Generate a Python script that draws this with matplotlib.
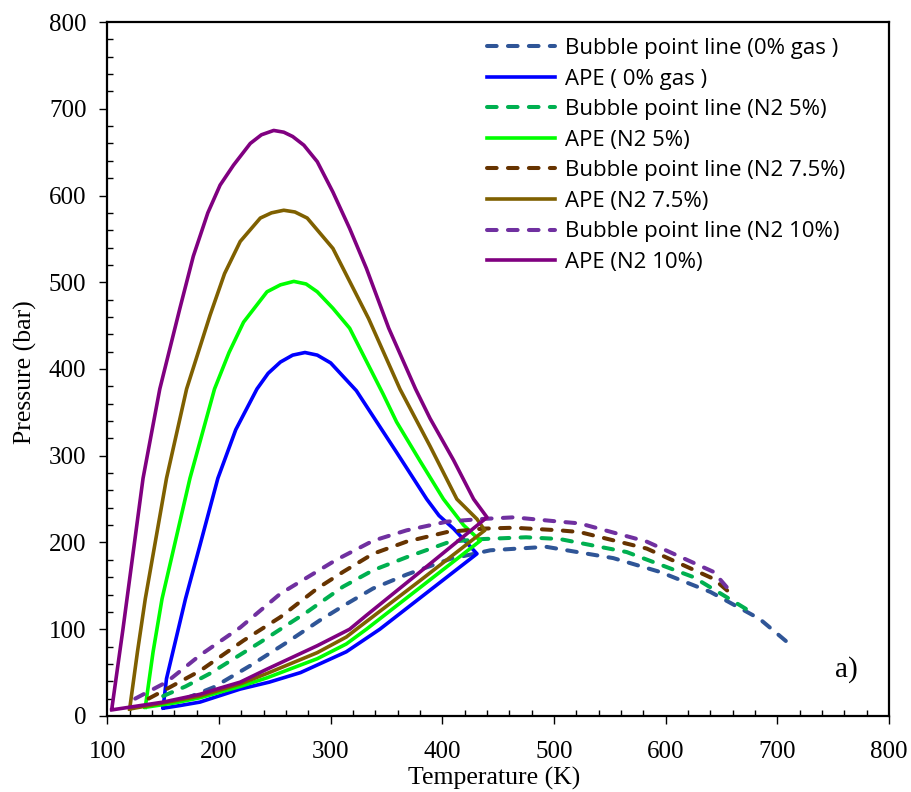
import matplotlib
matplotlib.use('Agg')
import matplotlib.pyplot as plt
from matplotlib.ticker import MultipleLocator

# bubble point lines (dashed), temperature in K, pressure in bar
bp_0_t = [170, 195, 228, 261, 290, 314, 338, 368, 407, 443, 493, 553, 595, 640, 684, 708]
bp_0_p = [20, 33, 58, 85, 110, 129, 147, 163, 181, 191, 195, 182, 166, 143, 112, 86]
bp_5_t = [150, 170, 192, 237, 279, 311, 338, 368, 407, 437, 475, 505, 565, 625, 675]
bp_5_p = [23, 34, 49, 85, 120, 149, 168, 183, 201, 204, 206, 204, 189, 160, 121]
bp_75_t = [137, 153, 183, 222, 255, 288, 311, 338, 368, 404, 437, 464, 505, 523, 583, 643, 662]
bp_75_p = [20, 31, 52, 87, 114, 147, 166, 187, 201, 212, 216, 217, 214, 212, 193, 158, 137]
bp_10_t = [125, 153, 183, 219, 255, 305, 338, 368, 404, 434, 464, 505, 523, 583, 643, 657]
bp_10_p = [20, 39, 70, 102, 141, 180, 202, 214, 224, 227, 229, 224, 222, 201, 166, 145]

# APE envelopes: upper branch up to the cusp, then lower branch back to the start
ape_0_t = [150, 153, 170, 183, 199, 215, 234, 244, 255, 266, 277, 288, 300, 323, 359, 386, 397, 410, 431,
           383, 344, 314, 273, 245, 219, 183, 165, 150]
ape_0_p = [10, 43, 135, 197, 274, 330, 377, 395, 408, 416, 419, 416, 407, 375, 304, 250, 231, 216, 187,
           139, 100, 74, 50, 39, 31, 16, 12, 9]
ape_5_t = [134, 141, 149, 174, 196, 209, 222, 243, 255, 267, 278, 288, 302, 317, 347, 359, 380, 401, 419, 434,
           380, 332, 314, 288, 243, 219, 183, 160, 134]
ape_5_p = [10, 74, 135, 274, 377, 419, 454, 489, 497, 501, 498, 489, 470, 447, 371, 339, 294, 250, 220, 202,
           148, 100, 83, 66, 44, 34, 21, 15, 10]
ape_75_t = [120, 127, 134, 153, 171, 192, 205, 219, 237, 247, 258, 268, 279, 302, 334, 362, 389, 413, 431, 438,
            380, 323, 314, 288, 243, 219, 183, 150, 120]
ape_75_p = [8, 74, 135, 274, 377, 462, 510, 547, 574, 580, 583, 581, 574, 539, 458, 377, 311, 250, 227, 214,
            156, 100, 91, 73, 49, 37, 23, 15, 8]
ape_10_t = [104, 114, 132, 147, 165, 177, 190, 201, 213, 228, 238, 249, 258, 266, 276, 288, 302, 317, 332,
            352, 376, 389, 410, 428, 440,
            380, 332, 317, 288, 243, 219, 198, 183, 150, 104]
ape_10_p = [8, 100, 274, 377, 470, 530, 580, 612, 635, 660, 670, 675, 673, 668, 658, 639, 604, 562, 516,
            447, 377, 343, 295, 250, 229,
            166, 116, 100, 81, 54, 39, 31, 25, 16, 7]

series = [
    (bp_0_t, bp_0_p, '#2F5597', True, 'Bubble point line (0% gas )'),
    (ape_0_t, ape_0_p, '#0000FF', False, 'APE ( 0% gas )'),
    (bp_5_t, bp_5_p, '#00B050', True, 'Bubble point line (N2 5%)'),
    (ape_5_t, ape_5_p, '#00FF00', False, 'APE (N2 5%)'),
    (bp_75_t, bp_75_p, '#663300', True, 'Bubble point line (N2 7.5%)'),
    (ape_75_t, ape_75_p, '#7F6000', False, 'APE (N2 7.5%)'),
    (bp_10_t, bp_10_p, '#7030A0', True, 'Bubble point line (N2 10%)'),
    (ape_10_t, ape_10_p, '#800080', False, 'APE (N2 10%)'),
]

fig = plt.figure(figsize=(9.11, 7.92), dpi=100)
ax = fig.add_axes([0.1178, 0.0960, 0.8581, 0.8762])

for t, p, col, dashed, lab in series:
    if dashed:
        ax.plot(t, p, color=col, lw=2.9, dashes=(2.4, 2.8), dash_capstyle='round', label=lab)
    else:
        ax.plot(t, p, color=col, lw=2.6, solid_joinstyle='round', label=lab)

ax.set_xlim(100, 800)
ax.set_ylim(0, 800)
ax.xaxis.set_major_locator(MultipleLocator(100))
ax.xaxis.set_minor_locator(MultipleLocator(20))
ax.yaxis.set_major_locator(MultipleLocator(100))
ax.yaxis.set_minor_locator(MultipleLocator(20))
ax.tick_params(which='major', direction='out', length=6, width=1, labelsize=18)
ax.tick_params(axis='x', which='major', pad=12)
ax.tick_params(axis='y', which='major', pad=9)
ax.tick_params(which='minor', direction='in', length=4.5, width=1)
for lbl in ax.get_xticklabels() + ax.get_yticklabels():
    lbl.set_family('Liberation Serif')
for s in ax.spines.values():
    s.set_linewidth(1.6)

ax.text(762, 54, 'a)', fontsize=21, family='Liberation Serif', ha='center', va='center')

fig.text(25 / 911, 1 - 372 / 792, 'Pressure (bar)', rotation=90, fontsize=18.5,
         family='Liberation Serif', ha='center', va='center')
fig.text(494 / 911, 1 - 778 / 792, 'Temperature (K)', fontsize=18.5,
         family='Liberation Serif', ha='center', va='center')

leg = ax.legend(loc='upper left', bbox_to_anchor=(487 / 911, 1 - 38 / 792),
                bbox_transform=fig.transFigure, frameon=False,
                prop={'family': 'Open Sans', 'size': 16}, handlelength=3.06,
                handletextpad=0.45, labelspacing=0.43, borderaxespad=0, borderpad=0)

plt.savefig('out.png', dpi=100)
plt.close()
